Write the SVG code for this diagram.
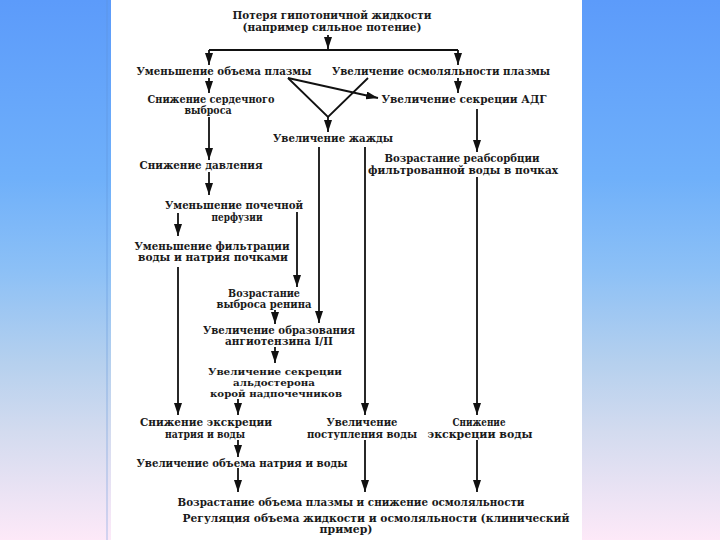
<svg xmlns="http://www.w3.org/2000/svg" width="720" height="540" viewBox="0 0 720 540">
<defs>
<linearGradient id="bg" x1="0" y1="0" x2="0" y2="1">
<stop offset="0" stop-color="#5c9bfa"/>
<stop offset="0.33" stop-color="#6fb0fa"/>
<stop offset="0.5" stop-color="#8cc0f6"/>
<stop offset="0.67" stop-color="#b5d0ee"/>
<stop offset="0.8" stop-color="#d3dbef"/>
<stop offset="1" stop-color="#fde9f8"/>
</linearGradient>
<marker id="ah" viewBox="0 0 12 8" refX="12" refY="4" markerWidth="12" markerHeight="8" markerUnits="userSpaceOnUse" orient="auto">
<path d="M0,0 L12,4 L0,8 z" fill="#111"/>
</marker>
<style>
text{font-family:"DejaVu Serif","Liberation Serif",serif;font-weight:bold;font-size:10.5px;fill:#1a1a1a;text-anchor:middle}
.s{font-size:9.5px}
.c line,.c polyline{stroke:#111;stroke-width:1.8;fill:none}
.a{marker-end:url(#ah)}
</style>
</defs>
<rect x="0" y="0" width="720" height="540" fill="url(#bg)"/>
<rect x="106" y="0" width="2" height="540" fill="#5a8fd8" opacity="0.25"/>
<rect x="111" y="0" width="471" height="540" fill="#ffffff"/>

<g class="c" id="connectors">
<line class="a" x1="328" y1="35" x2="328" y2="49"/>
<line x1="209" y1="50" x2="458" y2="50"/>
<line class="a" x1="209" y1="50" x2="209" y2="65"/>
<line class="a" x1="458" y1="50" x2="458" y2="65"/>
<line class="a" x1="209" y1="78" x2="209" y2="93"/>
<line class="a" x1="458" y1="78" x2="458" y2="93"/>
<line class="a" x1="288" y1="78" x2="378" y2="98"/>
<polyline points="288,78 328,117 368,78"/>
<line class="a" x1="328" y1="117" x2="328" y2="132"/>
<line class="a" x1="477" y1="109" x2="477" y2="152"/>
<line class="a" x1="209" y1="117" x2="209" y2="160"/>
<line class="a" x1="209" y1="172" x2="209" y2="195"/>
<line class="a" x1="178" y1="213" x2="178" y2="236"/>
<line class="a" x1="297" y1="212" x2="297" y2="287"/>
<line class="a" x1="319" y1="147" x2="319" y2="323"/>
<line class="a" x1="365" y1="147" x2="365" y2="415"/>
<line class="a" x1="477" y1="177" x2="477" y2="415"/>
<line class="a" x1="178" y1="267" x2="178" y2="415"/>
<line class="a" x1="275" y1="310" x2="275" y2="324"/>
<line class="a" x1="275" y1="347" x2="275" y2="363"/>
<line class="a" x1="238" y1="399" x2="238" y2="415"/>
<line class="a" x1="238" y1="440" x2="238" y2="457"/>
<line class="a" x1="238" y1="468" x2="238" y2="492"/>
<line class="a" x1="365" y1="440" x2="365" y2="492"/>
<line class="a" x1="477" y1="440" x2="477" y2="492"/>
</g>

<g id="n_loss">
<text x="332" y="19" textLength="199" lengthAdjust="spacingAndGlyphs">Потеря гипотоничной жидкости</text>
<text x="332" y="31" textLength="179" lengthAdjust="spacingAndGlyphs">(например сильное потение)</text>
</g>
<g id="n_plasma_vol">
<text x="224" y="75" textLength="175" lengthAdjust="spacingAndGlyphs">Уменьшение объема плазмы</text>
</g>
<g id="n_osmol">
<text x="441" y="75" textLength="218" lengthAdjust="spacingAndGlyphs">Увеличение осмоляльности плазмы</text>
</g>
<g id="n_cardiac">
<text x="211" y="103" textLength="127" lengthAdjust="spacingAndGlyphs">Снижение сердечного</text>
<text x="208" y="114" textLength="47" lengthAdjust="spacingAndGlyphs">выброса</text>
</g>
<g id="n_adh">
<text x="464" y="103" textLength="165" lengthAdjust="spacingAndGlyphs">Увеличение секреции АДГ</text>
</g>
<g id="n_thirst">
<text x="333" y="142" textLength="120" lengthAdjust="spacingAndGlyphs">Увеличение жажды</text>
</g>
<g id="n_reabs">
<text x="462" y="162" textLength="155" lengthAdjust="spacingAndGlyphs">Возрастание реабсорбции</text>
<text x="463" y="174" textLength="190" lengthAdjust="spacingAndGlyphs">фильтрованной воды в почках</text>
</g>
<g id="n_pressure">
<text x="201" y="169" textLength="123" lengthAdjust="spacingAndGlyphs">Снижение давления</text>
</g>
<g id="n_perfusion">
<text x="234" y="209" textLength="138" lengthAdjust="spacingAndGlyphs">Уменьшение почечной</text>
<text x="237" y="221" textLength="51" lengthAdjust="spacingAndGlyphs">перфузии</text>
</g>
<g id="n_filtration">
<text x="212" y="250" textLength="155" lengthAdjust="spacingAndGlyphs">Уменьшение фильтрации</text>
<text x="213" y="261" textLength="150" lengthAdjust="spacingAndGlyphs">воды и натрия почками</text>
</g>
<g id="n_renin">
<text x="264" y="297" textLength="72" lengthAdjust="spacingAndGlyphs">Возрастание</text>
<text x="264" y="308" textLength="95" lengthAdjust="spacingAndGlyphs">выброса ренина</text>
</g>
<g id="n_angio">
<text x="279" y="334" textLength="152" lengthAdjust="spacingAndGlyphs">Увеличение образования</text>
<text x="279" y="345" textLength="108" lengthAdjust="spacingAndGlyphs">ангиотензина I/II</text>
</g>
<g id="n_aldo">
<text class="s" x="275" y="375" textLength="134" lengthAdjust="spacingAndGlyphs">Увеличение секреции</text>
<text class="s" x="274" y="386" textLength="82" lengthAdjust="spacingAndGlyphs">альдостерона</text>
<text class="s" x="276" y="397" textLength="132" lengthAdjust="spacingAndGlyphs">корой надпочечников</text>
</g>
<g id="n_na_excr">
<text x="206" y="426" textLength="132" lengthAdjust="spacingAndGlyphs">Снижение экскреции</text>
<text x="205" y="438" textLength="80" lengthAdjust="spacingAndGlyphs">натрия и воды</text>
</g>
<g id="n_intake">
<text x="362" y="426" textLength="71" lengthAdjust="spacingAndGlyphs">Увеличение</text>
<text x="362" y="438" textLength="110" lengthAdjust="spacingAndGlyphs">поступления воды</text>
</g>
<g id="n_w_excr">
<text x="479" y="426" textLength="53" lengthAdjust="spacingAndGlyphs">Снижение</text>
<text x="480" y="438" textLength="105" lengthAdjust="spacingAndGlyphs">экскреции воды</text>
</g>
<g id="n_na_vol">
<text x="242" y="467" textLength="211" lengthAdjust="spacingAndGlyphs">Увеличение объема натрия и воды</text>
</g>
<g id="n_result">
<text x="351" y="506" textLength="347" lengthAdjust="spacingAndGlyphs">Возрастание объема плазмы и снижение осмоляльности</text>
</g>
<g id="caption">
<text x="376" y="522" textLength="387" lengthAdjust="spacingAndGlyphs">Регуляция объема жидкости и осмоляльности (клинический</text>
<text x="346" y="533" textLength="53" lengthAdjust="spacingAndGlyphs">пример)</text>
</g>
</svg>
